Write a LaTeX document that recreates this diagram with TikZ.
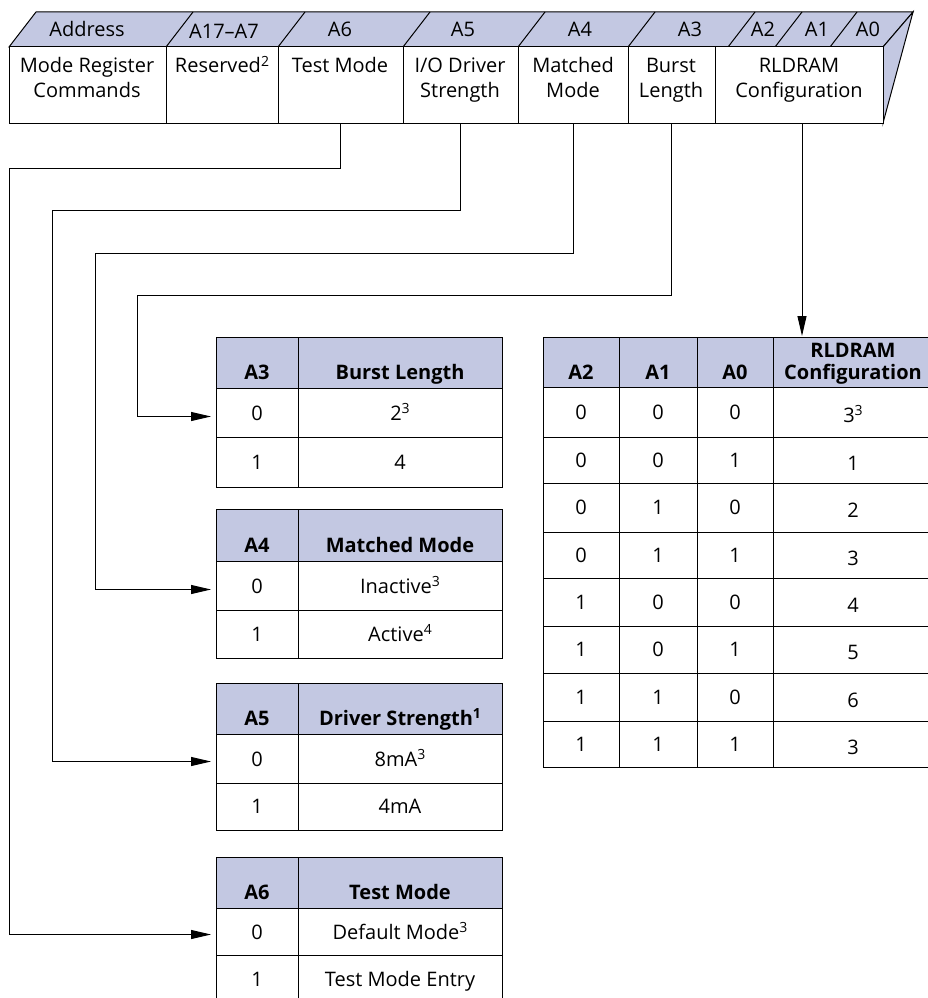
\documentclass[tikz,border=0pt]{standalone}
\usepackage{fontspec}
\setmainfont{Open Sans}
\usetikzlibrary{arrows.meta}
\definecolor{regblue}{RGB}{195,200,226}
\tikzset{
  grid/.style={draw=black, line width=1pt},
  hdr/.style={grid, fill=regblue},
  cellbox/.style={grid, fill=white},
  txt/.style={font=\fontsize{20}{24}\selectfont, inner sep=0pt, anchor=base},
  btxt/.style={font=\fontsize{20}{24}\selectfont\bfseries, inner sep=0pt, anchor=base},
  link/.style={draw=black, line width=1pt},
  tip/.style={-{Triangle[length=20pt,width=9pt]}, shorten >=5pt},
}
% raised footnote digit
\newcommand\fnum[1]{\raisebox{0.32em}{\fontsize{14}{14}\selectfont #1}}
% \cellat{name}{style}{x}{y}{width}{height}: a box whose top-left corner is (x,y)
\newcommand\cellat[6]{\node[#2, inner sep=0pt, outer sep=0pt,
  minimum width=#5pt, minimum height=#6pt, anchor=north west] (#1) at (#3,#4) {};}
\begin{document}
\begin{tikzpicture}[x=1pt,y=-1pt]
\path[fill=white,use as bounding box] (0,0) rectangle (927,998);

% ---------------- register: address band, field boxes, side face
\path[hdr] (9,47) -- (36,12) -- (913,12) -- (883,47) -- cycle;
\path[hdr] (883,47) -- (913,12) -- (883,123) -- cycle;
\foreach \x in {166,278,403,518,628,728,775,830}
  \draw[grid] (\x,47) -- ++(27,-35);
\cellat{mrc}{cellbox}{9}{47}{157}{76}
\cellat{res}{cellbox}{166}{47}{112}{76}
\cellat{tst}{cellbox}{278}{47}{125}{76}
\cellat{iod}{cellbox}{403}{47}{115}{76}
\cellat{mat}{cellbox}{518}{47}{110}{76}
\cellat{bur}{cellbox}{628}{47}{87}{76}
\cellat{rld}{cellbox}{715}{47}{168}{76}

\node[txt] (hAddr) at (87,37) {Address};
\node[txt] (hA17) at (224,38) {A17--A7};
\node[txt] (hA6) at (340,37) {A6};
\node[txt] (hA5) at (463,37) {A5};
\node[txt] (hA4) at (580,37) {A4};
\node[txt] (hA3) at (690,37) {A3};
\node[txt] (hA2) at (763,37) {A2};
\node[txt] (hA1) at (817,37) {A1};
\node[txt] (hA0) at (868,37) {A0};

\node[txt] (tMrc1) at (87,73) {Mode Register};
\node[txt] (tMrc2) at (87,97) {Commands};
\node[txt] (tRes) at (222,73) {Reserved\fnum{2}};
\node[txt] (tTst) at (340,73) {Test Mode};
\node[txt] (tIod1) at (460,73) {I/O Driver};
\node[txt] (tIod2) at (460,97) {Strength};
\node[txt] (tMat1) at (573,73) {Matched};
\node[txt] (tMat2) at (573,97) {Mode};
\node[txt] (tBur1) at (671,73) {Burst};
\node[txt] (tBur2) at (671,97) {Length};
\node[txt] (tRld1) at (799,73) {RLDRAM};
\node[txt] (tRld2) at (799,97) {Configuration};

% ---------------- left tables: key column at x=216, value column at x=298
% A3 / Burst Length
\cellat{bH1}{hdr}{216}{337}{82}{51}  \cellat{bH2}{hdr}{298}{337}{204}{51}
\cellat{bR0a}{cellbox}{216}{388}{82}{49} \cellat{bR0b}{cellbox}{298}{388}{204}{49}
\cellat{bR1a}{cellbox}{216}{437}{82}{50} \cellat{bR1b}{cellbox}{298}{437}{204}{50}
\node[btxt] (bK) at (257,379) {A3};
\node[btxt] (bV) at (400,379) {Burst Length};
\node[txt] (b0k) at (257,420) {0};
\node[txt] (b0v) at (400,420) {2\fnum{3}};
\node[txt] (b1k) at (257,469) {1};
\node[txt] (b1v) at (400,469) {4};

% A4 / Matched Mode
\cellat{mH1}{hdr}{216}{509}{82}{52}  \cellat{mH2}{hdr}{298}{509}{204}{52}
\cellat{mR0a}{cellbox}{216}{561}{82}{49} \cellat{mR0b}{cellbox}{298}{561}{204}{49}
\cellat{mR1a}{cellbox}{216}{610}{82}{48} \cellat{mR1b}{cellbox}{298}{610}{204}{48}
\node[btxt] (mK) at (257,552) {A4};
\node[btxt] (mV) at (400,552) {Matched Mode};
\node[txt] (m0k) at (257,593) {0};
\node[txt] (m0v) at (400,593) {Inactive\fnum{3}};
\node[txt] (m1k) at (257,641) {1};
\node[txt] (m1v) at (400,641) {Active\fnum{4}};

% A5 / Driver Strength
\cellat{dH1}{hdr}{216}{683}{82}{51}  \cellat{dH2}{hdr}{298}{683}{204}{51}
\cellat{dR0a}{cellbox}{216}{734}{82}{49} \cellat{dR0b}{cellbox}{298}{734}{204}{49}
\cellat{dR1a}{cellbox}{216}{783}{82}{47} \cellat{dR1b}{cellbox}{298}{783}{204}{47}
\node[btxt] (dK) at (257,725) {A5};
\node[btxt] (dV) at (400,725) {Driver Strength\fnum{1}};
\node[txt] (d0k) at (257,766) {0};
\node[txt] (d0v) at (400,766) {8mA\fnum{3}};
\node[txt] (d1k) at (257,813) {1};
\node[txt] (d1v) at (400,813) {4mA};

% A6 / Test Mode (last row runs off the lower edge)
\cellat{sH1}{hdr}{216}{857}{82}{51}  \cellat{sH2}{hdr}{298}{857}{204}{51}
\cellat{sR0a}{cellbox}{216}{908}{82}{47} \cellat{sR0b}{cellbox}{298}{908}{204}{47}
\draw[grid] (216,955) -- (216,1000) (298,955) -- (298,1000) (502,955) -- (502,1000);
\node[btxt] (sK) at (257,899) {A6};
\node[btxt] (sV) at (400,899) {Test Mode};
\node[txt] (s0k) at (257,939) {0};
\node[txt] (s0v) at (400,939) {Default Mode\fnum{3}};
\node[txt] (s1k) at (257,986) {1};
\node[txt] (s1v) at (400,986) {Test Mode Entry};

% ---------------- RLDRAM configuration table (right column runs off the right edge)
\cellat{cH1}{hdr}{543}{337}{76}{50}
\cellat{cH2}{hdr}{619}{337}{78}{50}
\cellat{cH3}{hdr}{697}{337}{76}{50}
\cellat{cH4}{hdr}{773}{337}{170}{50}
\node[btxt] (cK2) at (581,379) {A2};
\node[btxt] (cK1) at (658,379) {A1};
\node[btxt] (cK0) at (735,379) {A0};
\node[btxt] (cV1) at (853,357) {RLDRAM};
\node[btxt] (cV2) at (853,379) {Configuration};
\foreach \r/\ty/\h/\a/\b/\c/\v in {
    1/387/50/0/0/0/{3\fnum{3}},
    2/437/46/0/0/1/1,
    3/483/49/0/1/0/2,
    4/532/46/0/1/1/3,
    5/578/48/1/0/0/4,
    6/626/47/1/0/1/5,
    7/673/48/1/1/0/6,
    8/721/46/1/1/1/3}{
  \cellat{c\r a}{cellbox}{543}{\ty}{76}{\h}
  \cellat{c\r b}{cellbox}{619}{\ty}{78}{\h}
  \cellat{c\r c}{cellbox}{697}{\ty}{76}{\h}
  \cellat{c\r d}{cellbox}{773}{\ty}{170}{\h}
  \node[txt] (c\r ka) at ([yshift=-7pt]c\r a.center) {\a};
  \node[txt] (c\r kb) at ([yshift=-7pt]c\r b.center) {\b};
  \node[txt] (c\r kc) at ([yshift=-7pt]c\r c.center) {\c};
  \node[txt] (c\r v) at ([xshift=-5pt,yshift=-10pt]c\r d.center) {\v};
}

% ---------------- connectors from the register fields to their tables
\coordinate (tstBend) at (9,168);
\coordinate (iodBend) at (52,210);
\coordinate (matBend) at (95,253);
\coordinate (burBend) at (137,295);
\draw[link,tip] (tst.south) |- (tstBend) |- ([yshift=-3pt]sR0a.west);
\draw[link,tip] (iod.south) |- (iodBend) |- ([yshift=-3pt]dR0a.west);
\draw[link,tip] (mat.south) |- (matBend) |- ([yshift=-4pt]mR0a.west);
\draw[link,tip] (bur.south) |- (burBend) |- ([yshift=-4pt]bR0a.west);
\draw[link,-{Triangle[length=20pt,width=9pt]}, shorten >=1pt]
  ([xshift=3pt]rld.south) -- ([xshift=3pt]rld.south |- cH4.north);
\end{tikzpicture}
\end{document}
